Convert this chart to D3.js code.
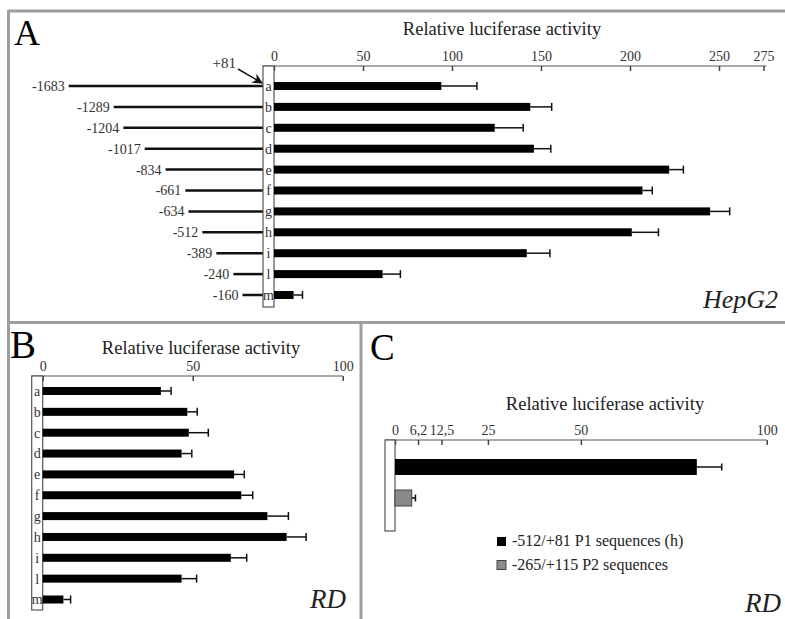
<!DOCTYPE html>
<html>
<head>
<meta charset="utf-8">
<script src="https://cdn.jsdelivr.net/npm/d3@7"></script>
<style>
  body { margin: 0; background: #fff; }
  svg { display: block; font-family: "Liberation Serif", "Times New Roman", serif; }
  .tick text { font-family: "Liberation Serif", serif; font-size: 14px; fill: #333; }
</style>
</head>
<body>
<div id="chart"></div>
<script>
var width = 785,
	height = 619;

// construct names (rows) and 5' ends of the promoter fragments
var rows = ["a", "b", "c", "d", "e", "f", "g", "h", "i", "l", "m"];
var starts = [-1683, -1289, -1204, -1017, -834, -661, -634, -512, -389, -240, -160];

// panel A - HepG2
var hepg2Values = [94, 144, 124, 146, 222, 207, 245, 201, 142, 61, 11];
var hepg2Errors = [20, 12, 16, 9.5, 8, 5.5, 11, 15, 13, 10, 5];
var hepg2Ticks = [0, 50, 100, 150, 200, 250, 275];

// panel B - RD
var rdValues = [39.4, 48.2, 48.7, 46.3, 63.8, 66.2, 74.9, 81.3, 62.7, 46.3, 6.9];
var rdErrors = [3.4, 3.3, 6.5, 3.4, 3.4, 3.8, 7, 6.5, 5.3, 5, 2.4];
var rdTicks = [0, 50, 100];

// panel C - RD, P1 vs P2
var cSeries = ["-512/+81 P1 sequences (h)", "-265/+115 P2 sequences"];
var cValues = [81.2, 4.5];
var cErrors = [6.7, 1];
var cColors = ["#000", "#8a8a8a"];
var cTicks = [0, 6.2, 12.5, 25, 50, 100];
var cTickLabels = ["0", "6,2", "12,5", "25", "50", "100"];

var svg = d3.select("#chart").append("svg")
	.attr("width", width)
	.attr("height", height);

svg.append("defs").append("marker")
	.attr("id", "arrow")
	.attr("viewBox", "0 0 10 10")
	.attr("refX", 9).attr("refY", 5)
	.attr("markerWidth", 7).attr("markerHeight", 7)
	.attr("orient", "auto")
	.append("path")
	.attr("d", "M0,0L10,5L0,10L3,5Z")
	.attr("fill", "#111");

// panel frames
var frame = svg.append("g").attr("stroke", "#9e9e9e").attr("stroke-width", 3).attr("fill", "none");
frame.append("line").attr("x1", 8).attr("x2", 785).attr("y1", 11).attr("y2", 11);
frame.append("line").attr("x1", 8.5).attr("x2", 8.5).attr("y1", 10).attr("y2", 619);
frame.append("line").attr("x1", 8).attr("x2", 785).attr("y1", 322.5).attr("y2", 322.5);
frame.append("line").attr("x1", 361).attr("x2", 361).attr("y1", 322).attr("y2", 619);

function axisTopDown(g, scale, ticks, labels) {
	var ax = d3.axisTop(scale)
		.tickValues(ticks)
		.tickSizeInner(-5)
		.tickSizeOuter(0)
		.tickPadding(5);
	if (labels) ax.tickFormat(function(d, i) { return labels[i]; });
	g.call(ax);
	g.select(".domain").remove();
	g.selectAll(".tick line").attr("stroke", "#444").attr("stroke-width", 1.5);
}

function drawBars(g, y, x, values, errors, barH, capH, colors) {
	var grp = g.selectAll(".bar")
		.data(values)
		.enter().append("g")
		.attr("class", "bar");

	grp.append("rect")
		.attr("x", x(0))
		.attr("y", function(d, i) { return y(i) - barH / 2; })
		.attr("width", function(d) { return x(d) - x(0); })
		.attr("height", barH)
		.attr("fill", function(d, i) { return colors ? colors[i] : "#000"; })
		.attr("stroke", function(d, i) { return colors && i > 0 ? "#444" : "none"; });

	grp.append("line")
		.attr("x1", function(d) { return x(d); })
		.attr("x2", function(d, i) { return x(d + errors[i]); })
		.attr("y1", function(d, i) { return y(i); })
		.attr("y2", function(d, i) { return y(i); })
		.attr("stroke", "#111").attr("stroke-width", 1.5);

	grp.append("line")
		.attr("x1", function(d, i) { return x(d + errors[i]); })
		.attr("x2", function(d, i) { return x(d + errors[i]); })
		.attr("y1", function(d, i) { return y(i) - capH / 2; })
		.attr("y2", function(d, i) { return y(i) + capH / 2; })
		.attr("stroke", "#111").attr("stroke-width", 1.5);
}

function title(x, y, txt) {
	svg.append("text")
		.attr("x", x).attr("y", y)
		.attr("text-anchor", "middle")
		.attr("font-size", 18.5)
		.attr("fill", "#222")
		.text(txt);
}

// ---------------- panel A ----------------
var xA = d3.scaleLinear().domain([0, 275]).range([274, 763.5]);
var yA = d3.scalePoint().domain(d3.range(rows.length)).range([86, 295]);
var posA = d3.scaleLinear().domain([-1683, -160]).range([68.7, 242.5]);
var axisYA = 66;
var boxW = 11;

var gA = svg.append("g");

svg.append("text").attr("x", 14).attr("y", 45).attr("font-size", 36).text("A");
title(502, 35, "Relative luciferase activity");

gA.append("line")
	.attr("x1", xA(0) - boxW).attr("x2", xA(275) + 3)
	.attr("y1", axisYA).attr("y2", axisYA)
	.attr("stroke", "#555").attr("stroke-width", 1.2);

gA.append("g").attr("transform", "translate(0," + axisYA + ")")
	.call(axisTopDown, xA, hepg2Ticks);

// promoter fragments
gA.selectAll(".frag")
	.data(starts)
	.enter().append("line")
	.attr("class", "frag")
	.attr("x1", function(d) { return posA(d); })
	.attr("x2", xA(0) - boxW)
	.attr("y1", function(d, i) { return yA(i); })
	.attr("y2", function(d, i) { return yA(i); })
	.attr("stroke", "#111").attr("stroke-width", 2.5);

gA.selectAll(".startLabel")
	.data(starts)
	.enter().append("text")
	.attr("class", "startLabel")
	.attr("x", function(d) { return posA(d) - 4; })
	.attr("y", function(d, i) { return yA(i); })
	.attr("dy", "0.35em")
	.attr("text-anchor", "end")
	.attr("font-size", 14)
	.attr("fill", "#333")
	.text(function(d) { return d; });

gA.append("rect")
	.attr("x", xA(0) - boxW).attr("y", axisYA)
	.attr("width", boxW).attr("height", 307 - axisYA)
	.attr("fill", "#fff").attr("stroke", "#555").attr("stroke-width", 1.2);

gA.selectAll(".rowLabel")
	.data(rows)
	.enter().append("text")
	.attr("x", xA(0) - boxW / 2)
	.attr("y", function(d, i) { return yA(i); })
	.attr("dy", "0.35em")
	.attr("text-anchor", "middle")
	.attr("font-size", 14)
	.attr("fill", "#333")
	.text(function(d) { return d; });

drawBars(gA, yA, xA, hepg2Values, hepg2Errors, 8, 8);

gA.append("text").attr("x", 236).attr("y", 68).attr("text-anchor", "end")
	.attr("font-size", 15).attr("fill", "#333").text("+81");
gA.append("line")
	.attr("x1", 238).attr("y1", 69).attr("x2", 262).attr("y2", 83)
	.attr("stroke", "#111").attr("stroke-width", 1.5)
	.attr("marker-end", "url(#arrow)");

svg.append("text").attr("x", 703).attr("y", 308)
	.attr("font-size", 26).attr("font-style", "italic").attr("fill", "#222").text("HepG2");

// ---------------- panel B ----------------
var xB = d3.scaleLinear().domain([0, 100]).range([42.7, 342.7]);
var yB = d3.scalePoint().domain(d3.range(rows.length)).range([391, 599.5]);
var axisYB = 376;
var gB = svg.append("g");

svg.append("text").attr("x", 10).attr("y", 358).attr("font-size", 39).text("B");
title(201, 354, "Relative luciferase activity");

gB.append("line")
	.attr("x1", xB(0) - boxW).attr("x2", xB(100))
	.attr("y1", axisYB).attr("y2", axisYB)
	.attr("stroke", "#555").attr("stroke-width", 1.2);
gB.append("g").attr("transform", "translate(0," + axisYB + ")")
	.call(axisTopDown, xB, rdTicks);

gB.append("rect")
	.attr("x", xB(0) - boxW).attr("y", axisYB)
	.attr("width", boxW).attr("height", 610 - axisYB)
	.attr("fill", "#fff").attr("stroke", "#555").attr("stroke-width", 1.2);

gB.selectAll(".rowLabel")
	.data(rows)
	.enter().append("text")
	.attr("x", xB(0) - boxW / 2)
	.attr("y", function(d, i) { return yB(i); })
	.attr("dy", "0.35em")
	.attr("text-anchor", "middle")
	.attr("font-size", 14)
	.attr("fill", "#333")
	.text(function(d) { return d; });

drawBars(gB, yB, xB, rdValues, rdErrors, 8, 8);

svg.append("text").attr("x", 310).attr("y", 608)
	.attr("font-size", 27).attr("font-style", "italic").attr("fill", "#222").text("RD");

// ---------------- panel C ----------------
var xC = d3.scaleLinear().domain([0, 100]).range([395, 766.7]);
var yC = d3.scalePoint().domain(d3.range(cValues.length)).range([467, 498]);
var axisYC = 440;
var gC = svg.append("g");

svg.append("text").attr("x", 370).attr("y", 360).attr("font-size", 37).text("C");
title(605, 410, "Relative luciferase activity");

gC.append("line")
	.attr("x1", xC(0) - 10).attr("x2", xC(100))
	.attr("y1", axisYC).attr("y2", axisYC)
	.attr("stroke", "#555").attr("stroke-width", 1.2);
gC.append("g").attr("transform", "translate(0," + axisYC + ")")
	.call(axisTopDown, xC, cTicks, cTickLabels);

gC.append("rect")
	.attr("x", xC(0) - 10).attr("y", axisYC)
	.attr("width", 10).attr("height", 531 - axisYC)
	.attr("fill", "#fff").attr("stroke", "#555").attr("stroke-width", 1.2);

drawBars(gC, yC, xC, cValues, cErrors, 16, 7, cColors);

var legend = gC.selectAll(".legend")
	.data(cSeries)
	.enter().append("g")
	.attr("class", "legend")
	.attr("transform", function(d, i) { return "translate(497," + (537 + i * 23.5) + ")"; });
legend.append("rect")
	.attr("width", 9).attr("height", 9)
	.attr("fill", function(d, i) { return cColors[i]; })
	.attr("stroke", function(d, i) { return i > 0 ? "#444" : "none"; });
legend.append("text")
	.attr("x", 15).attr("y", 9)
	.attr("font-size", 16).attr("fill", "#222")
	.text(function(d) { return d; });

svg.append("text").attr("x", 745).attr("y", 612)
	.attr("font-size", 27).attr("font-style", "italic").attr("fill", "#222").text("RD");
</script>
</body>
</html>
